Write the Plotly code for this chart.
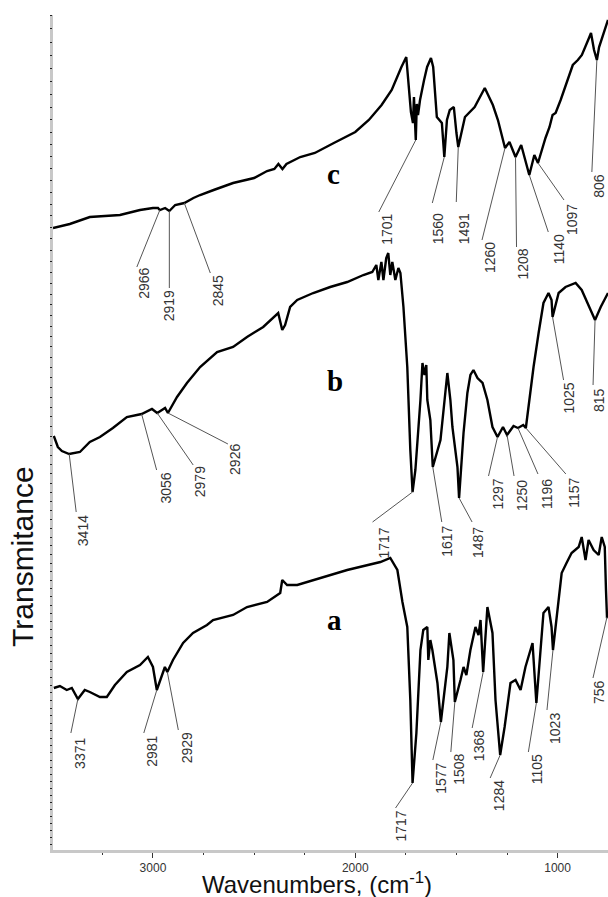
import numpy as np
import plotly.graph_objects as go

# ---------------- data (wavenumber cm-1, transmittance a.u.) ----------------
c_wn = [3494, 3411, 3312, 3238, 3163, 3064, 3000, 2975, 2966, 2940, 2919, 2890, 2845, 2800, 2767, 2700,
        2604, 2500, 2436, 2400, 2380, 2360, 2340, 2272, 2200, 2106, 2000, 1933, 1870, 1820, 1790, 1772,
        1748, 1735, 1725, 1715, 1710, 1701, 1696, 1690, 1680, 1660, 1645, 1626, 1615, 1597, 1572, 1560,
        1547, 1533, 1513, 1500, 1491, 1458, 1410, 1360, 1320, 1295, 1280, 1260, 1238, 1208, 1180, 1160,
        1140, 1115, 1097, 1060, 1040, 1025, 1010, 985, 950, 925, 900, 880, 845, 835, 820, 806, 795, 751]
c_t = [62.4, 62.8, 63.5, 63.6, 63.7, 64.2, 64.4, 64.4, 64.2, 64.4, 64.1, 64.7, 64.9, 65.4, 65.7, 66.2,
       66.9, 67.4, 68.1, 68.3, 68.8, 68.3, 68.8, 69.5, 69.9, 70.9, 72.0, 73.2, 74.7, 76.2, 77.7, 78.5,
       79.5, 76.5, 74.0, 72.9, 75.5, 71.2, 74.8, 73.7, 75.2, 77.2, 78.5, 79.4, 78.5, 73.5, 72.9, 69.5,
       73.2, 74.2, 74.5, 71.9, 70.5, 73.5, 74.5, 76.4, 74.7, 73.2, 71.9, 70.4, 71.0, 69.5, 70.7, 69.2,
       67.7, 69.7, 68.9, 71.4, 72.5, 73.7, 73.9, 75.2, 77.2, 78.7, 79.2, 79.7, 81.4, 81.9, 80.2, 79.2, 80.5, 83.2]

b_wn = [3490, 3470, 3450, 3414, 3361, 3312, 3262, 3198, 3129, 3090, 3056, 3005, 2979, 2940, 2926, 2881,
        2832, 2767, 2683, 2604, 2535, 2455, 2381, 2361, 2347, 2322, 2287, 2208, 2124, 2040, 1960, 1916,
        1896, 1886, 1871, 1861, 1847, 1837, 1827, 1817, 1802, 1787, 1777, 1762, 1743, 1728, 1717, 1703,
        1693, 1678, 1668, 1658, 1649, 1644, 1629, 1617, 1579, 1560, 1545, 1530, 1520, 1495, 1487, 1465,
        1446, 1431, 1416, 1396, 1371, 1347, 1322, 1297, 1270, 1250, 1218, 1196, 1170, 1157, 1119, 1094,
        1070, 1045, 1030, 1025, 995, 961, 911, 881, 837, 815, 787, 751]
b_t = [41.6, 40.5, 40.1, 39.8, 40.0, 41.0, 41.5, 42.4, 43.5, 43.7, 43.8, 44.3, 43.9, 44.4, 43.9, 45.5,
       46.9, 48.5, 50.0, 50.5, 51.5, 52.5, 53.9, 52.2, 52.7, 54.5, 55.2, 55.9, 56.5, 57.0, 57.7, 58.0,
       58.7, 57.2, 59.0, 57.2, 59.4, 59.9, 57.7, 59.0, 57.2, 58.4, 57.9, 54.5, 48.5, 40.2, 36.0, 38.2,
       40.9, 45.2, 48.9, 47.7, 48.7, 45.2, 43.2, 38.5, 41.2, 45.2, 47.9, 45.2, 42.5, 38.5, 35.4, 41.9,
       45.9, 47.7, 48.2, 47.4, 46.9, 45.2, 42.5, 41.5, 42.5, 41.7, 42.6, 42.4, 42.7, 42.4, 48.5, 51.9,
       54.9, 55.9, 55.2, 53.5, 55.9, 56.5, 56.9, 56.2, 54.2, 53.2, 54.5, 55.9]

a_wn = [3490, 3460, 3426, 3401, 3371, 3337, 3312, 3262, 3228, 3188, 3129, 3064, 3025, 3000, 2981, 2955,
        2941, 2929, 2901, 2851, 2802, 2733, 2703, 2604, 2535, 2436, 2371, 2361, 2337, 2287, 2208, 2040,
        1876, 1827, 1792, 1767, 1743, 1728, 1717, 1698, 1678, 1664, 1644, 1639, 1629, 1619, 1594, 1577,
        1545, 1535, 1515, 1508, 1480, 1465, 1451, 1431, 1406, 1391, 1381, 1368, 1347, 1322, 1307, 1284,
        1262, 1233, 1208, 1183, 1159, 1124, 1105, 1070, 1045, 1030, 1023, 995, 980, 956, 931, 896,
        881, 862, 847, 822, 797, 782, 767, 761, 756, 751]
a_t = [16.4, 16.6, 16.2, 16.4, 15.3, 16.2, 16.0, 15.5, 15.5, 16.7, 18.0, 18.7, 19.5, 18.5, 16.2, 17.7,
       18.5, 18.0, 19.2, 20.9, 21.9, 22.7, 23.2, 23.7, 24.5, 25.0, 25.9, 27.2, 26.7, 26.7, 27.2, 28.2,
       29.0, 29.4, 28.2, 25.0, 22.5, 15.2, 6.9, 11.9, 20.2, 22.2, 22.5, 19.2, 21.2, 20.2, 16.9, 13.0,
       18.5, 21.9, 19.2, 15.0, 17.2, 18.5, 17.7, 20.2, 22.5, 21.7, 23.2, 18.0, 24.5, 21.9, 15.2, 9.7,
       12.5, 16.9, 17.2, 16.2, 18.5, 20.9, 14.9, 23.9, 24.5, 22.5, 20.2, 24.9, 27.9, 28.9, 29.9, 30.5,
       31.5, 29.2, 31.2, 30.2, 29.7, 31.5, 30.5, 26.2, 23.5, 23.5]

peaks_c = [2966, 2919, 2845, 1701, 1560, 1491, 1260, 1208, 1140, 1097, 806]
peaks_b = [3414, 3056, 2979, 2926, 1717, 1617, 1487, 1297, 1250, 1196, 1157, 1025, 815]
peaks_a = [3371, 2981, 2929, 1717, 1577, 1508, 1368, 1284, 1105, 1023, 756]

x_tick_step = 1000
x_minor_step = 250
series_names = ["a", "b", "c"]

# ---------------- label layout (pixel offsets from each peak) ----------------
lead_c = [(-23, 57), (0, 77), (26, 70), (-37, 72), (-12, 46), (-2, 55), (-23, 92), (1, 90), (19, 57), (26, 37), (-5, 112)]
text_c = [(-16, 73), (0, 95), (34, 88), (-29, 89), (-6, 72), (6, 82), (-15, 110), (7, 107), (30, 74), (34, 56), (2, 126)]
lead_b = [(7, 58), (15, 56), (36, 52), (60, 31), (-40, 30), (9, 55), (13, 24), (-9, 39), (7, 41), (20, 46), (40, 46), (11, 63), (-2, 65)]
text_b = [(14, 77), (24, 74), (43, 69), (67, 46), (-29, 51), (14, 74), (19, 45), (0, 57), (15, 61), (29, 66), (48, 65), (16, 81), (4, 80)]
lead_a = [(-7, 34), (-13, 43), (11, 58), (-17, 25), (-8, 38), (-4, 50), (-11, 56), (-10, 23), (-8, 49), (-6, 60), (-14, 61)]
text_a = [(2, 54), (-5, 61), (20, 76), (-12, 43), (0, 56), (4, 67), (-4, 74), (-1, 41), (1, 66), (2, 78), (-8, 75)]

SANS = "Liberation Sans, Arial, sans-serif"
SERIF = "Liberation Serif, Times New Roman, serif"

fig = go.Figure()
for wn, t in [(a_wn, a_t), (b_wn, b_t), (c_wn, c_t)]:
    fig.add_trace(go.Scatter(x=wn, y=t, mode="lines", line=dict(color="black", width=2.4),
                             hoverinfo="skip", showlegend=False))

# helper trace so the tick-only overlay axis is drawn
fig.add_trace(go.Scatter(x=[2000], y=[1.5], yaxis="y2", mode="markers", marker=dict(opacity=0),
                         hoverinfo="skip", showlegend=False))


def add_labels(wn, t, peaks, leads, texts):
    xs = np.array(wn, dtype=float)[::-1]
    ys = np.array(t, dtype=float)[::-1]
    for p, (dx, dy), (tx, ty) in zip(peaks, leads, texts):
        yv = float(np.interp(p, xs, ys))
        fig.add_shape(type="line", xref="x", yref="y", xsizemode="pixel", ysizemode="pixel",
                      xanchor=p, yanchor=yv, x0=0, y0=0, x1=dx, y1=-dy,
                      line=dict(color="#555", width=1))
        fig.add_annotation(x=p, y=yv, text=str(p), showarrow=False, textangle=-90,
                           xshift=tx, yshift=-ty, xanchor="center", yanchor="middle",
                           font=dict(family=SANS, size=14, color="#333"))


add_labels(c_wn, c_t, peaks_c, lead_c, text_c)
add_labels(b_wn, b_t, peaks_b, lead_b, text_b)
add_labels(a_wn, a_t, peaks_a, lead_a, text_a)

# series letters
for name, (lx, ly) in zip(series_names, [(2105, 23.2), (2100, 47.1), (2110, 67.8)]):
    fig.add_annotation(x=lx, y=ly, text="<b>%s</b>" % name, showarrow=False,
                       font=dict(family=SERIF, size=29, color="black"))

# axis titles
fig.add_annotation(xref="paper", yref="paper", x=0.4748, y=-0.0400, text="Wavenumbers, (cm<sup>-1</sup>)",
                   showarrow=False, xanchor="center", yanchor="middle",
                   font=dict(family=SANS, size=24, color="#111"))
fig.add_annotation(xref="paper", yref="paper", x=-0.054, y=0.351, text="Transmitance", textangle=-90,
                   showarrow=False, xanchor="center", yanchor="middle",
                   font=dict(family=SANS, size=30, color="#111"))

fig.update_layout(
    width=608, height=897,
    margin=dict(l=53, r=0, t=15, b=47),
    plot_bgcolor="white", paper_bgcolor="white",
    xaxis=dict(range=[3494, 751], tick0=0, dtick=x_tick_step, ticks="outside", ticklen=5, tickwidth=1,
               tickcolor="#333", showline=True, linecolor="#c8c8c8", linewidth=3, showgrid=False,
               zeroline=False, tickfont=dict(family=SANS, size=12, color="#333"),
               minor=dict(dtick=x_minor_step, tick0=0, ticks="outside", ticklen=2, tickcolor="#333", showgrid=False)),
    yaxis=dict(range=[0.2, 83.7], showticklabels=False, ticks="", showline=True, linecolor="#c8c8c8",
               linewidth=3, showgrid=False, zeroline=False),
    yaxis2=dict(type="log", overlaying="y", side="left", range=[float(np.log10(2.04)), 0.0],
                tickmode="linear", tick0=1, dtick="L0.0117", ticks="outside", ticklen=2, tickwidth=1,
                tickcolor="#222", showticklabels=False, showgrid=False, zeroline=False, showline=False),
)

fig.write_html("out.html")
